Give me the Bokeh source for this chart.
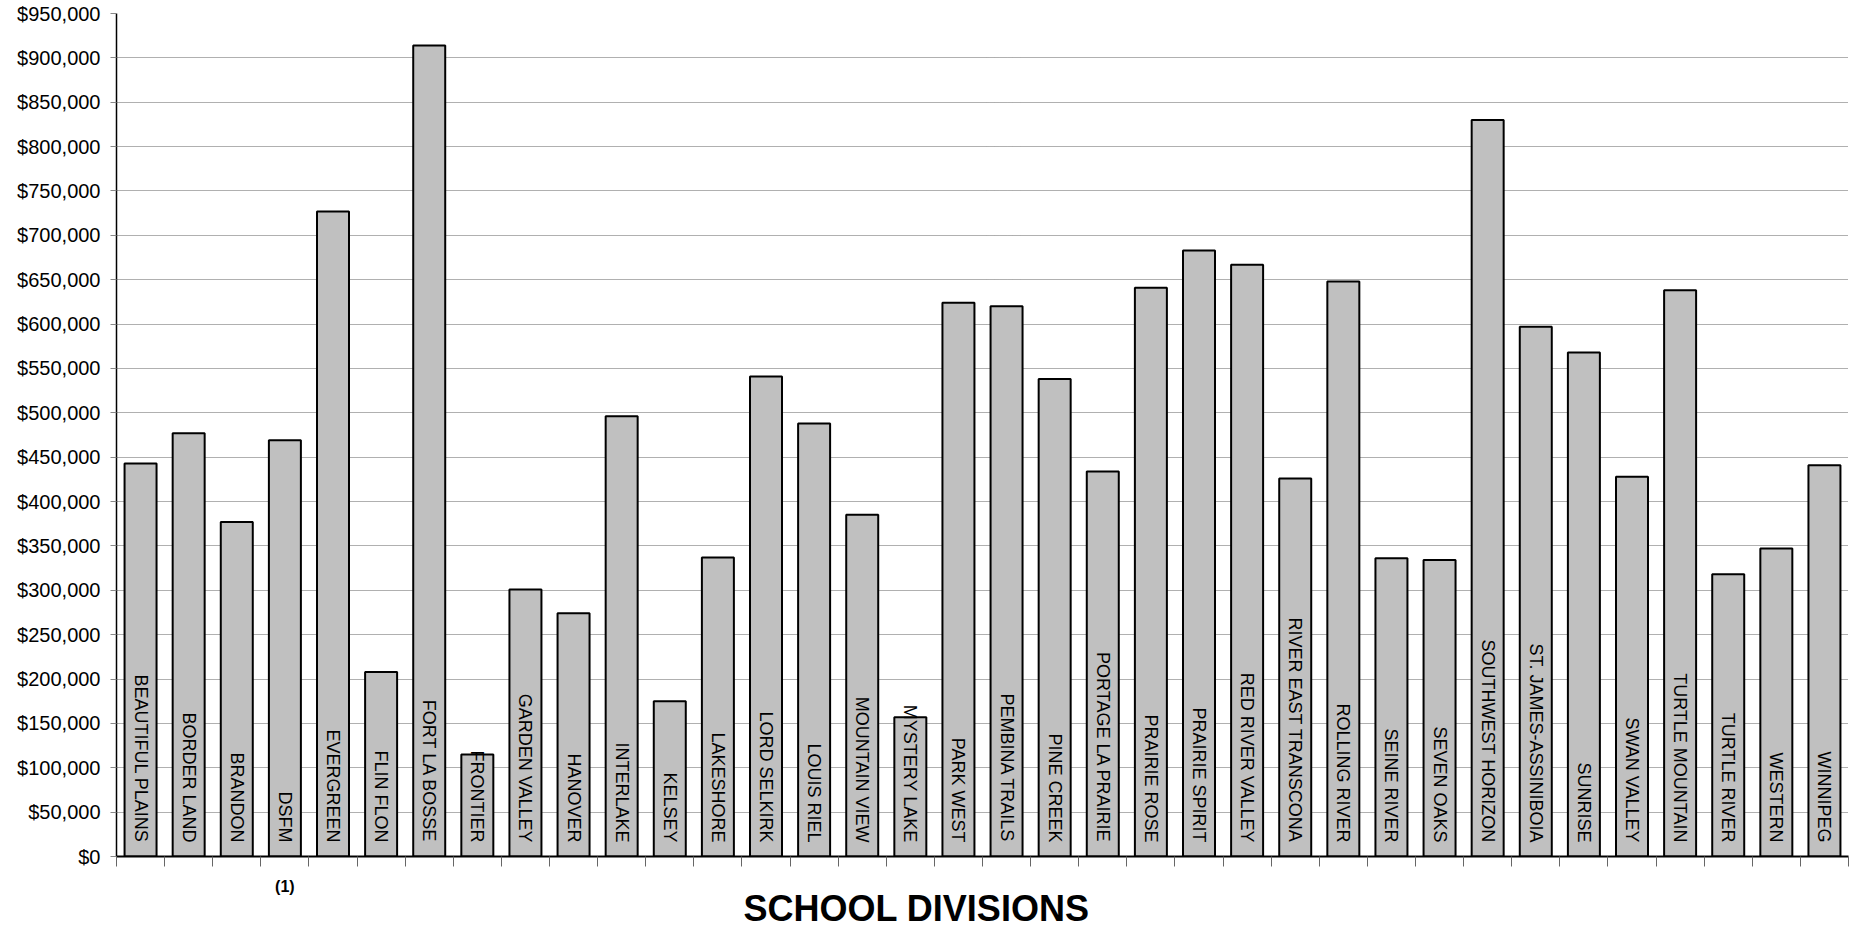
from bokeh.plotting import figure
from bokeh.models import Range1d, FixedTicker, NumeralTickFormatter, ColumnDataSource, Title
from bokeh.core.properties import value
from bokeh.embed import file_html
from bokeh.resources import INLINE

divisions = ["BEAUTIFUL PLAINS", "BORDER LAND", "BRANDON", "DSFM", "EVERGREEN", "FLIN FLON",
             "FORT LA BOSSE", "FRONTIER", "GARDEN VALLEY", "HANOVER", "INTERLAKE", "KELSEY",
             "LAKESHORE", "LORD SELKIRK", "LOUIS RIEL", "MOUNTAIN VIEW", "MYSTERY LAKE", "PARK WEST",
             "PEMBINA TRAILS", "PINE CREEK", "PORTAGE LA PRAIRIE", "PRAIRIE ROSE", "PRAIRIE SPIRIT",
             "RED RIVER VALLEY", "RIVER EAST TRANSCONA", "ROLLING RIVER", "SEINE RIVER", "SEVEN OAKS",
             "SOUTHWEST HORIZON", "ST. JAMES-ASSINIBOIA", "SUNRISE", "SWAN VALLEY", "TURTLE MOUNTAIN",
             "TURTLE RIVER", "WESTERN", "WINNIPEG"]
amounts = [443000, 477000, 377000, 469000, 727000, 208000,
           914000, 115000, 301000, 274000, 496000, 175000,
           337000, 541000, 488000, 385000, 157000, 624000,
           620000, 538000, 434000, 641000, 683000,
           667000, 426000, 648000, 336000, 334000,
           830000, 597000, 568000, 428000, 638000,
           318000, 347000, 441000]
footnote_division = "DSFM"
footnote_text = "(1)"
x_title = "SCHOOL DIVISIONS"
y_ticks = list(range(0, 950001, 50000))

n = len(divisions)
xs = [i + 0.5 for i in range(n)]
src = ColumnDataSource(dict(x=xs, top=amounts, name=divisions, base=[0] * n))

p = figure(width=1850, height=927, output_backend="svg", toolbar_location=None,
           x_range=Range1d(0, n), y_range=Range1d(0, 950000),
           min_border_left=116, min_border_right=2, min_border_top=13, min_border_bottom=71)
p.outline_line_color = None
p.background_fill_color = "white"

p.vbar(x="x", top="top", width=0.665, source=src, fill_color="#c0c0c0",
       line_color="black", line_width=2)

p.text(x="x", y="base", text="name", source=src, angle=-1.5707963, text_align="right",
       text_baseline="middle", y_offset=-14, text_font=value("Liberation Sans"),
       text_font_size="18px", text_color="black")

# y axis
p.yaxis.ticker = FixedTicker(ticks=y_ticks)
p.yaxis.formatter = NumeralTickFormatter(format="$0,0")
p.yaxis.major_label_text_font = "Liberation Sans"
p.yaxis.major_label_text_font_size = "20px"
p.yaxis.major_label_text_color = "black"
p.yaxis.major_tick_out = 6
p.yaxis.major_tick_in = 0
p.yaxis.major_tick_line_color = "#888888"
p.yaxis.minor_tick_line_color = None
p.yaxis.axis_line_color = "black"
p.yaxis.axis_line_width = 1.5
p.yaxis.major_label_standoff = 10

# x axis
fi = divisions.index(footnote_division)
p.xaxis.ticker = FixedTicker(ticks=[fi + 0.5], minor_ticks=list(range(n + 1)))
p.xaxis.major_label_overrides = {fi + 0.5: footnote_text}
p.xaxis.major_tick_line_color = None
p.xaxis.major_tick_out = 0
p.xaxis.minor_tick_out = 10
p.xaxis.minor_tick_in = 0
p.xaxis.minor_tick_line_color = "#666666"
p.xaxis.axis_line_color = "black"
p.xaxis.axis_line_width = 2
p.xaxis.major_label_text_font = "Liberation Sans"
p.xaxis.major_label_text_font_style = "bold"
p.xaxis.major_label_text_font_size = "16px"
p.xaxis.major_label_text_color = "black"
p.xaxis.major_label_standoff = 11

t = Title(text=x_title, align="left", offset=627, standoff=-24,
          text_font="Liberation Sans", text_font_style="bold", text_font_size="36px",
          text_color="black")
p.add_layout(t, "below")

p.xgrid.grid_line_color = None
p.ygrid.ticker = FixedTicker(ticks=y_ticks)
p.ygrid.grid_line_color = "#606060"
p.ygrid.grid_line_dash = "1 1"
p.ygrid.grid_line_width = 1

open("out.html", "w").write(file_html(p, INLINE))
